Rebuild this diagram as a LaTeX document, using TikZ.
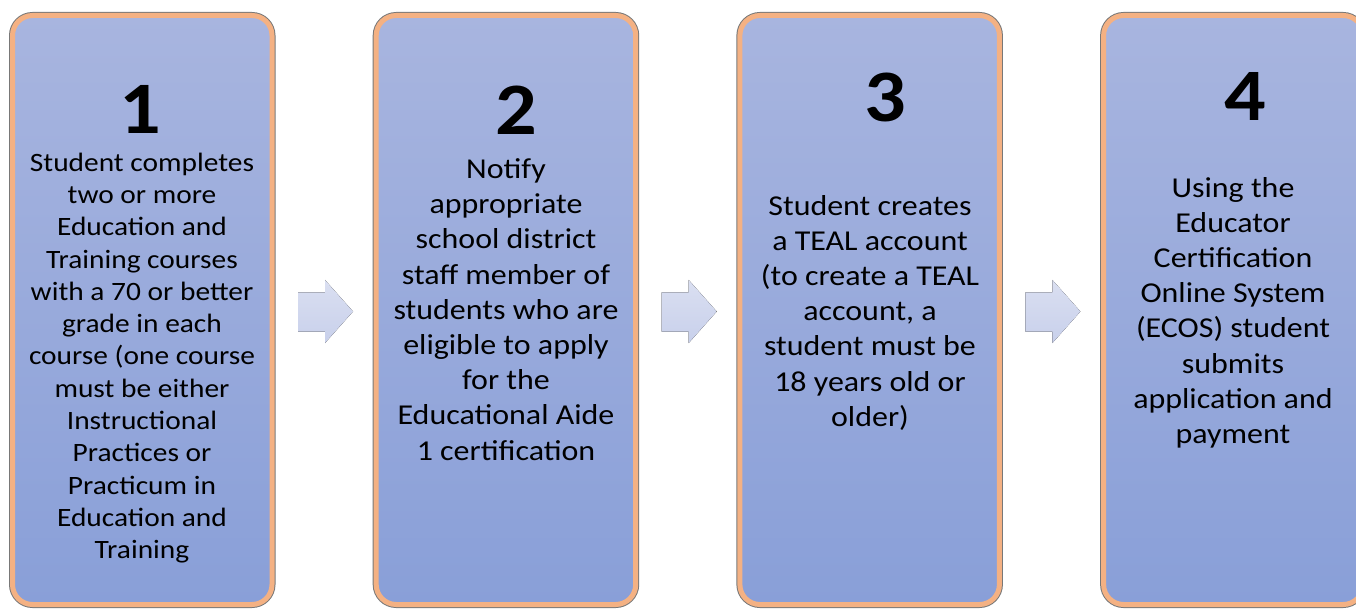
\documentclass[tikz,border=0pt]{standalone}
\usepackage{fontspec}
\setmainfont[FakeStretch=1.11]{Carlito}
\definecolor{boxtop}{RGB}{168,181,223}
\definecolor{boxbot}{RGB}{137,159,216}
\definecolor{rim}{RGB}{244,177,131}
\definecolor{rimline}{RGB}{120,120,120}
\definecolor{arrtop}{RGB}{218,223,241}
\definecolor{arrbot}{RGB}{200,208,235}
\tikzset{
  stepbox/.style={rectangle, rounded corners=20pt, minimum width=259.5pt, minimum height=589pt,
    inner sep=0pt, top color=boxtop, bottom color=boxbot, draw=rim, line width=5pt,
    preaction={draw=rimline, line width=7pt}},
  digit/.style={anchor=base, inner sep=0pt, font=\fontsize{74}{80}\selectfont\bfseries},
  smalltext/.style={anchor=north, inner sep=0pt, align=center, font=\fontsize{26.5}{32.3}\selectfont},
  bigtext/.style={anchor=north, inner sep=0pt, align=center, font=\fontsize{28.8}{35.2}\selectfont},
  flowarrow/.style={top color=arrtop, bottom color=arrbot, draw=none}
}
\begin{document}
\begin{tikzpicture}[x={(1pt,0pt)}, y={(0pt,-1pt)}]
\useasboundingbox (0,0) rectangle (1356,609);
\begin{scope}
\clip (0,0) rectangle (1356,609);
% boxes
\node[stepbox] (b1) at (142.25,310) {};
\node[stepbox] (b2) at (505.95,310) {};
\node[stepbox] (b3) at (869.65,310) {};
\node[stepbox] (b4) at (1233.35,310) {};
% digits
\node[digit] (d1) at (140,134) {1};
\node[digit] (d2) at (516,135) {2};
\node[digit] (d3) at (885,122) {3};
\node[digit] (d4) at (1245,121) {4};
% texts
\node[smalltext] (t1) at (142,152.5) {Student completes\\two or more\\Education and\\Training courses\\with a 70 or better\\grade in each\\course (one course\\must be either\\Instructional\\Practices or\\Practicum in\\Education and\\Training};
\node[bigtext] (t2) at (506,158.3) {Notify\\appropriate\\school district\\staff member of\\students who are\\eligible to apply\\for the\\Educational Aide\\1 certification};
\node[bigtext] (t3) at (870,195) {Student creates\\a TEAL account\\(to create a TEAL\\account, a\\student must be\\18 years old or\\older)};
\node[bigtext] (t4) at (1233,177) {Using the\\Educator\\Certification\\Online System\\(ECOS) student\\submits\\application and\\payment};
% arrows
\foreach \ax [count=\i] in {298,661.7,1025.4} {
  \fill[flowarrow] (\ax,292.5) -- (\ax+27,292.5) -- (\ax+27,280) -- (\ax+55,311.5)
     -- (\ax+27,343) -- (\ax+27,331.5) -- (\ax,331.5) -- cycle;
}
\end{scope}
\end{tikzpicture}
\end{document}
